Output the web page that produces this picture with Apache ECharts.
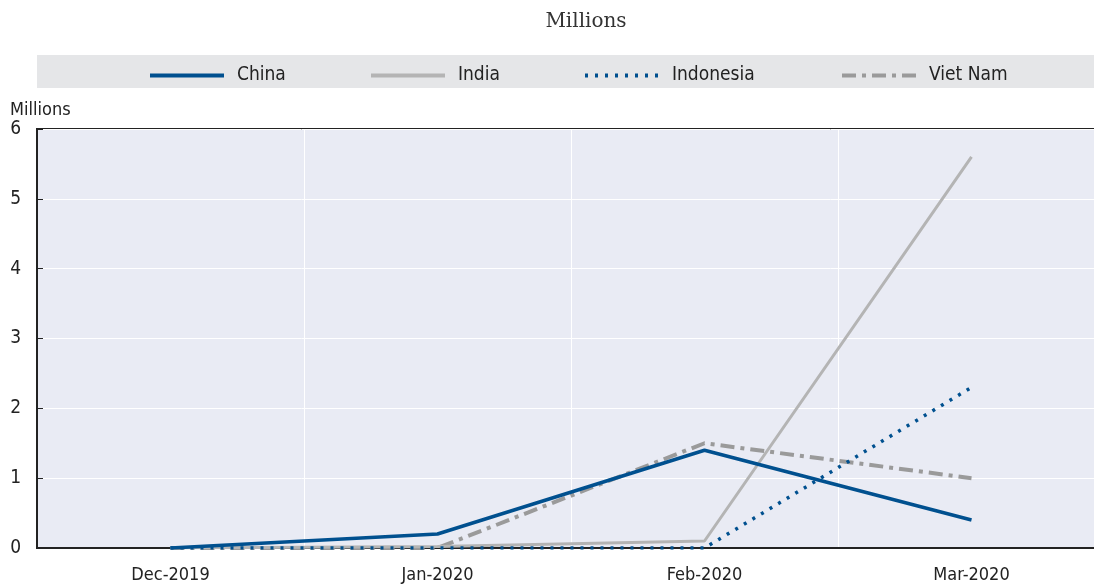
<!DOCTYPE html>
<html>
<head>
<meta charset="utf-8">
<script src="https://cdn.jsdelivr.net/npm/echarts@6/dist/echarts.min.js"></script>
<style>
  html, body { margin: 0; padding: 0; background: #fff; }
  #chart { width: 1094px; height: 588px; }
</style>
</head>
<body>
<div id="chart"></div>
<script>
// 月份
const months = ['Dec-2019', 'Jan-2020', 'Feb-2020', 'Mar-2020']
// 各国数据（百万）
const china = [0, 0.2, 1.4, 0.4]
const india = [0, 0.02, 0.1, 5.6]
const indonesia = [0, 0, 0, 2.3]
const vietNam = [0, 0, 1.5, 1.0]

const font = "'DejaVu Sans Condensed', 'Liberation Sans Narrow', 'Liberation Sans', sans-serif"
const blue = '#00508f'

let chart = echarts.init(document.getElementById('chart'), null, { renderer: 'canvas' })

// 每个图例单独定位
function legendAt(name, left) {
  return {
    data: [name],
    left: left,
    top: 61,
    itemWidth: 74,
    itemHeight: 12,
    itemGap: 0,
    itemStyle: { opacity: 0 },
    lineStyle: { width: 4 },
    textStyle: { fontFamily: font, fontSize: 19, color: '#222', padding: [0, 0, 0, 8] }
  }
}

var option = {
  animation: false,
  graphic: [
    {
      type: 'rect',
      shape: { x: 37, y: 55, width: 1057, height: 33 },
      style: { fill: '#e5e6e8' },
      z: -1
    }
  ],
  title: {
    text: 'Millions',
    left: 581,
    textAlign: 'center',
    top: 7,
    textStyle: { fontFamily: "'DejaVu Serif', serif", fontSize: 20, fontWeight: 'normal', color: '#333' }
  },
  legend: [
    legendAt('China', 143),
    legendAt('India', 364),
    legendAt('Indonesia', 578),
    legendAt('Viet Nam', 835)
  ],
  grid: {
    left: 37,
    top: 129,
    width: 1068,
    height: 419,
    outerBoundsMode: 'none',
    containLabel: false,
    show: true,
    backgroundColor: '#e9ebf4',
    borderColor: '#222',
    borderWidth: 2
  },
  xAxis: {
    type: 'category',
    data: months,
    boundaryGap: true,
    axisLine: { lineStyle: { color: '#222', width: 2 } },
    axisTick: { inside: true, length: 6, lineStyle: { color: '#222' } },
    splitLine: { show: true, lineStyle: { color: '#fff', width: 1 } },
    axisLabel: { fontFamily: font, fontSize: 18, color: '#222', margin: 18 }
  },
  yAxis: {
    type: 'value',
    min: 0,
    max: 6,
    interval: 1,
    name: 'Millions',
    nameLocation: 'end',
    nameGap: 10,
    nameTextStyle: { fontFamily: font, fontSize: 18, color: '#222', align: 'left', padding: [0, 0, 0, -27] },
    axisLine: { show: true, lineStyle: { color: '#222', width: 2 } },
    axisTick: { show: true, inside: true, length: 6, lineStyle: { color: '#222' } },
    splitLine: { show: true, lineStyle: { color: '#fff', width: 1 } },
    axisLabel: { fontFamily: font, fontSize: 19, color: '#222', margin: 16 }
  },
  series: [
    {
      name: 'China',
      type: 'line',
      data: china,
      symbol: 'none',
      color: blue,
      lineStyle: { color: blue, width: 3.5 },
      z: 5
    },
    {
      name: 'India',
      type: 'line',
      data: india,
      symbol: 'none',
      color: '#b4b4b4',
      lineStyle: { color: '#b4b4b4', width: 3 },
      z: 3
    },
    {
      name: 'Indonesia',
      type: 'line',
      data: indonesia,
      symbol: 'none',
      color: blue,
      lineStyle: { color: blue, width: 3.5, type: [3, 7] },
      z: 4
    },
    {
      name: 'Viet Nam',
      type: 'line',
      data: vietNam,
      symbol: 'none',
      color: '#9a9a9a',
      lineStyle: { color: '#9a9a9a', width: 4, type: [14, 6, 4, 6] },
      z: 2
    }
  ]
}
chart.setOption(option)
</script>
</body>
</html>
